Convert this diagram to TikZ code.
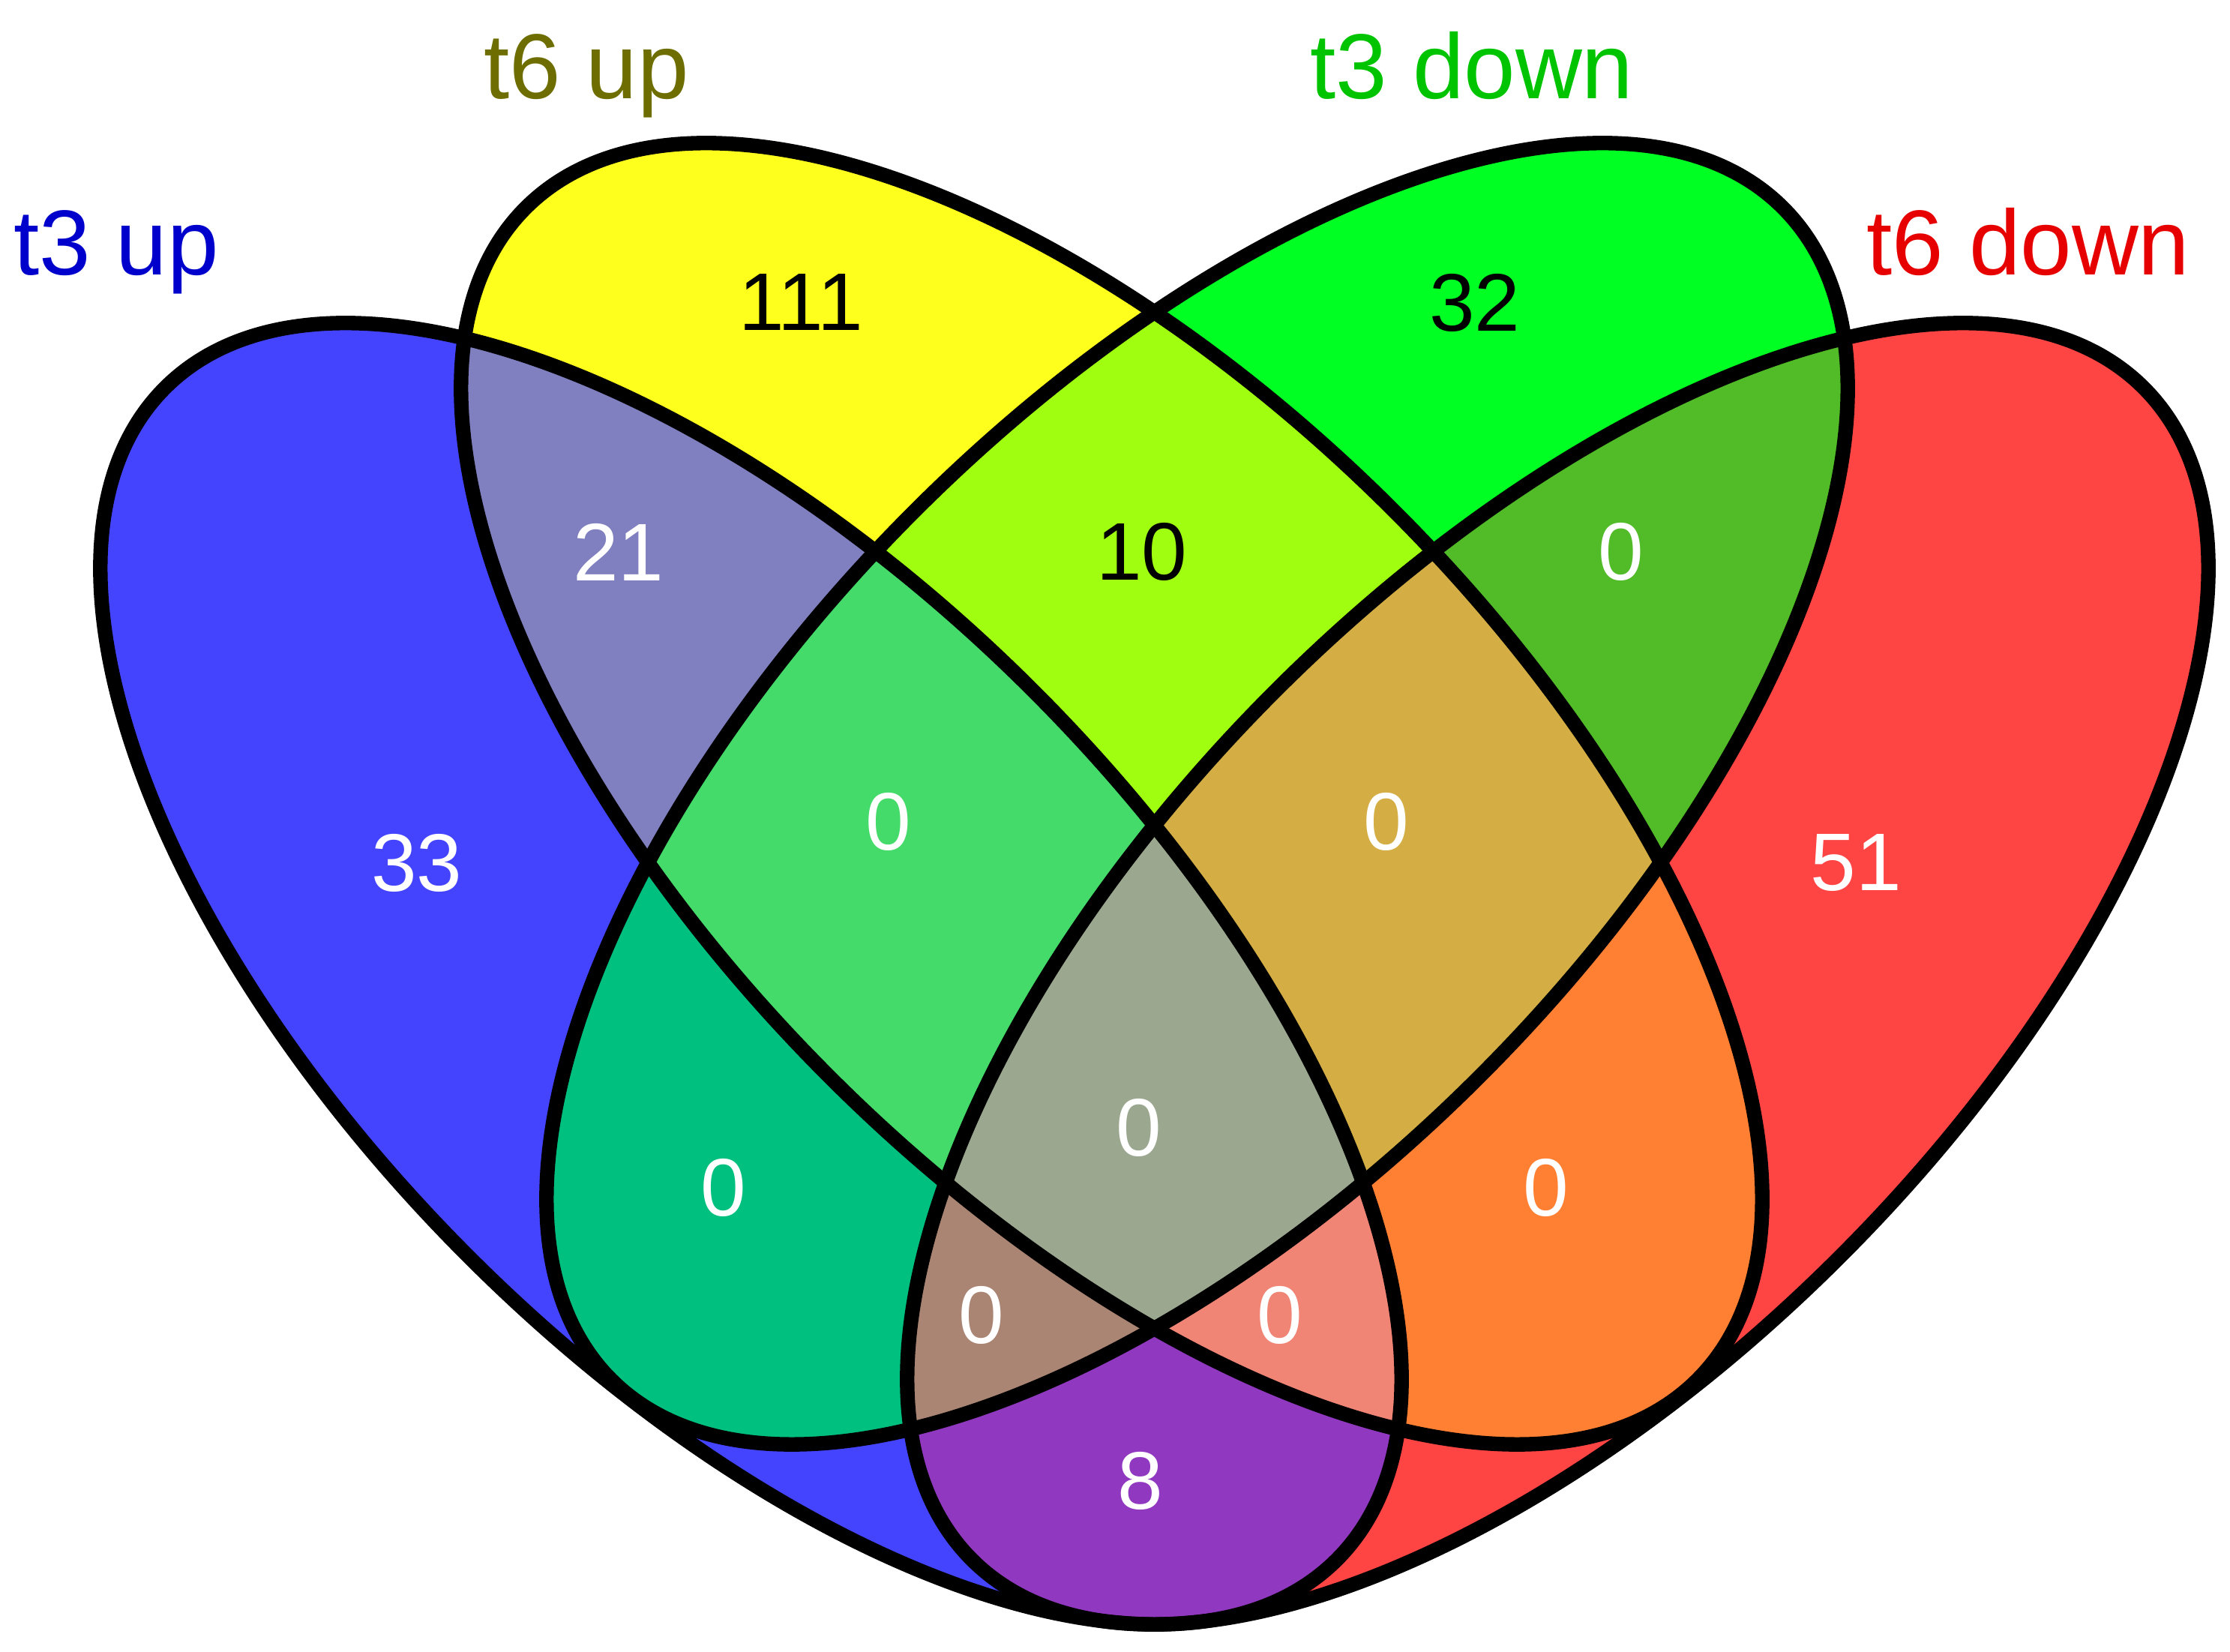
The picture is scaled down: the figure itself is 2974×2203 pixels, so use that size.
\documentclass[tikz,border=0pt]{standalone}
\usepackage{fontspec}
\setmainfont{Liberation Sans}
\definecolor{cB}{HTML}{4444FF}
\definecolor{cY}{HTML}{FFFF1E}
\definecolor{cG}{HTML}{00FF22}
\definecolor{cR}{HTML}{FF4444}
\definecolor{cBY}{HTML}{8080C0}
\definecolor{cBG}{HTML}{00C080}
\definecolor{cBR}{HTML}{9138C0}
\definecolor{cYG}{HTML}{A0FF10}
\definecolor{cYR}{HTML}{FF8033}
\definecolor{cGR}{HTML}{52BB28}
\definecolor{cBYG}{HTML}{44DB6A}
\definecolor{cYGR}{HTML}{D4AE44}
\definecolor{cBGR}{HTML}{AA8573}
\definecolor{cBYR}{HTML}{F08575}
\definecolor{cALL}{HTML}{9BA88F}
\definecolor{lB}{HTML}{0000CC}
\definecolor{lY}{HTML}{6E6E00}
\definecolor{lG}{HTML}{00C400}
\definecolor{lR}{HTML}{E60000}
\newcommand\pB{(1001.5,904.5) ellipse [x radius=1105, y radius=533]}
\newcommand\pY{(1482.5,1144.5) ellipse [x radius=1105, y radius=533]}
\newcommand\pG{(1596.5,1144.5) ellipse [x radius=1105, y radius=533]}
\newcommand\pR{(2077.5,904.5) ellipse [x radius=1105, y radius=533]}
\tikzset{
  rB/.style={rotate around={-45:(1001.5,904.5)}},
  rY/.style={rotate around={-45:(1482.5,1144.5)}},
  rG/.style={rotate around={45:(1596.5,1144.5)}},
  rR/.style={rotate around={45:(2077.5,904.5)}},
  outline/.style={draw=black, line width=5.5pt},
  setlabel/.style={anchor=base, inner sep=0pt, font=\fontsize{35}{40}\selectfont},
  num/.style={anchor=center, inner sep=0pt, font=\fontsize{31}{36}\selectfont},
}
\begin{document}
\begin{tikzpicture}[x=0.01cm,y=0.01cm]
\useasboundingbox (0,0) rectangle (2974,2203);
% singles
\fill[cB,rB] \pB;
\fill[cY,rY] \pY;
\fill[cG,rG] \pG;
\fill[cR,rR] \pR;
% pairs
\begin{scope}\clip[rB] \pB; \fill[cBY,rY] \pY; \end{scope}
\begin{scope}\clip[rB] \pB; \fill[cBG,rG] \pG; \end{scope}
\begin{scope}\clip[rB] \pB; \fill[cBR,rR] \pR; \end{scope}
\begin{scope}\clip[rY] \pY; \fill[cYG,rG] \pG; \end{scope}
\begin{scope}\clip[rY] \pY; \fill[cYR,rR] \pR; \end{scope}
\begin{scope}\clip[rG] \pG; \fill[cGR,rR] \pR; \end{scope}
% triples
\begin{scope}\clip[rB] \pB; \clip[rY] \pY; \fill[cBYG,rG] \pG; \end{scope}
\begin{scope}\clip[rB] \pB; \clip[rY] \pY; \fill[cBYR,rR] \pR; \end{scope}
\begin{scope}\clip[rB] \pB; \clip[rG] \pG; \fill[cBGR,rR] \pR; \end{scope}
\begin{scope}\clip[rY] \pY; \clip[rG] \pG; \fill[cYGR,rR] \pR; \end{scope}
% all four
\begin{scope}\clip[rB] \pB; \clip[rY] \pY; \clip[rG] \pG; \fill[cALL,rR] \pR; \end{scope}
% outlines
\draw[outline,rB] \pB;
\draw[outline,rY] \pY;
\draw[outline,rG] \pG;
\draw[outline,rR] \pR;
% set labels
\node[setlabel, text=lB] (labB) at (155,1836) {t3 up};
\node[setlabel, text=lY] (labY) at (782,2071) {t6 up};
\node[setlabel, text=lG] (labG) at (1963,2071) {t3 down};
\node[setlabel, text=lR] (labR) at (2705,1836) {t6 down};
% counts
\node[num, text=black] (nY) at (1068,1800) {111};
\node[num, text=white] (nB) at (556,1052) {33};
\node[num, text=white] (nBY) at (825,1467) {21};
\node[num, text=black] (nG) at (1967,1799) {32};
\node[num, text=black] (nYG) at (1523,1467) {10};
\node[num, text=white] (nGR) at (2162,1467) {0};
\node[num, text=white] (nBYG) at (1185,1107) {0};
\node[num, text=white] (nYGR) at (1849,1107) {0};
\node[num, text=white] (nR) at (2475,1052) {51};
\node[num, text=white] (nBG) at (965,619) {0};
\node[num, text=white] (nALL) at (1519,699) {0};
\node[num, text=white] (nYR) at (2062,619) {0};
\node[num, text=white] (nBGR) at (1309,449) {0};
\node[num, text=white] (nBYR) at (1707,449) {0};
\node[num, text=white] (nBR) at (1521,228) {8};
\end{tikzpicture}
\end{document}
